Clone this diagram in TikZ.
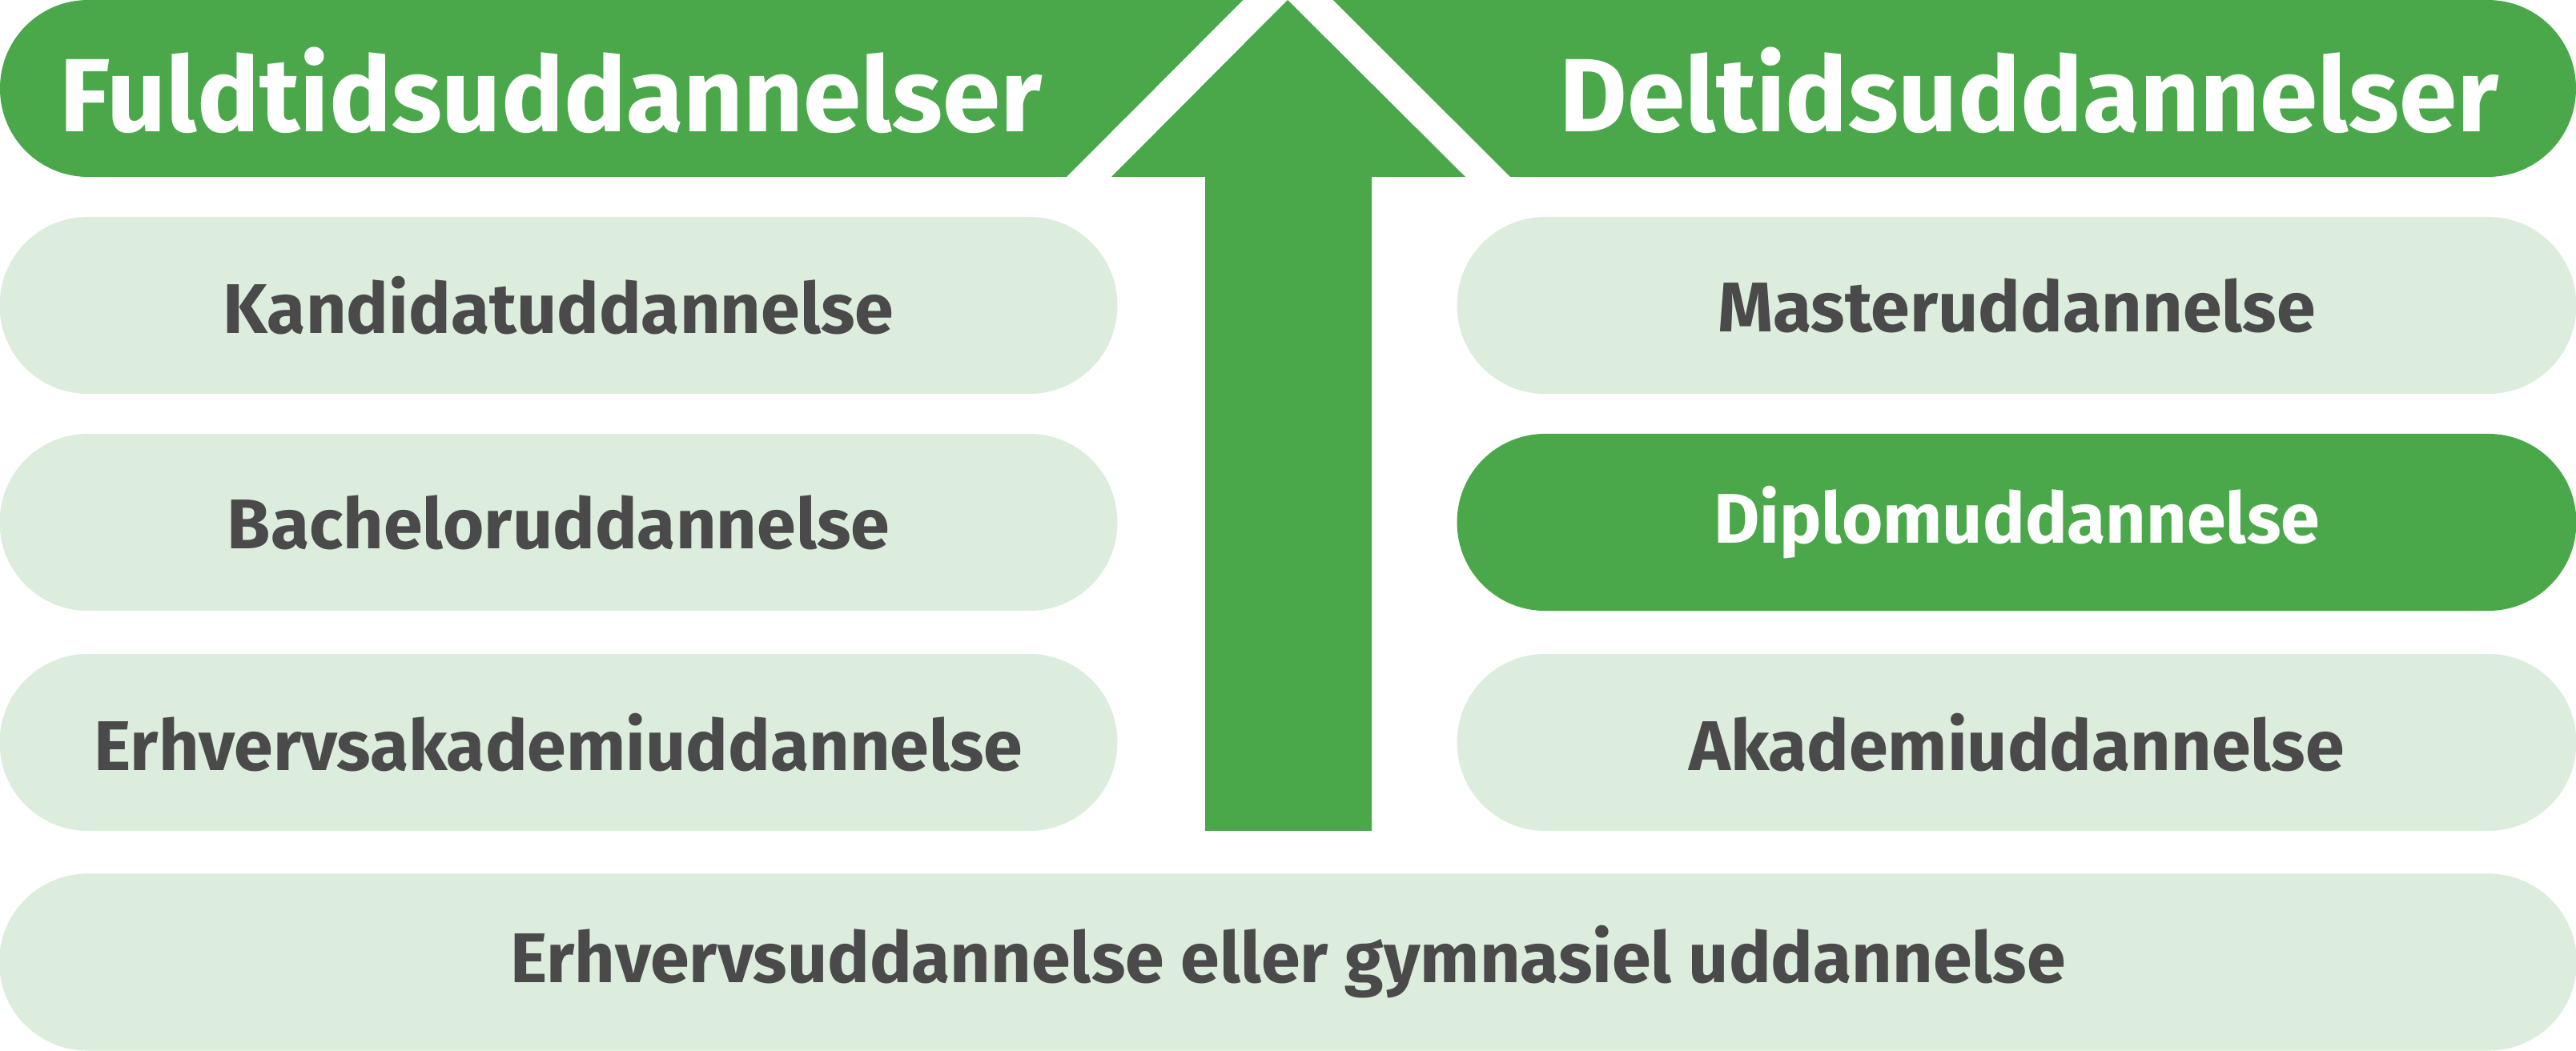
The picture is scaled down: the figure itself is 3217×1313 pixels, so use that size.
\documentclass[tikz,border=0pt]{standalone}
\usepackage{fontspec}
\setmainfont{Fira Sans}
\definecolor{gr}{HTML}{4AA84B}
\definecolor{lgr}{HTML}{DCEDDD}
\definecolor{tx}{HTML}{4A4A4A}
\begin{document}
\begin{tikzpicture}[x=0.01cm,y=-0.01cm,
 pill/.style={fill=lgr,rounded corners=1.1cm,minimum height=2.21cm,inner sep=0pt,text=tx,font=\fontsize{25}{30}\selectfont\bfseries},
 lpill/.style={pill,minimum width=13.95cm},
 rpill/.style={pill,minimum width=13.97cm},
 hd/.style={text=white,font=\fontsize{37}{44}\selectfont\bfseries}]
\useasboundingbox (0,0) rectangle (3217,1313);
\fill[gr,rounded corners=1.1cm] (1552,0) -- (0,0) -- (0,221) -- (1332,221) [sharp corners] -- cycle;
\fill[gr] (1552,0) -- (1332,221) -- (600,221) -- (600,0) -- cycle;
\fill[gr,rounded corners=1.1cm] (1665,0) -- (3217,0) -- (3217,221) -- (1886,221) [sharp corners]-- cycle;
\fill[gr] (1665,0) -- (2600,0) -- (2600,221) -- (1886,221) -- cycle;
\fill[gr] (1608,0) -- (1830,221) -- (1713,221) -- (1713,1038) -- (1505,1038) -- (1505,221) -- (1388,221) -- cycle;
\node[hd] (hl) at (688,113) {Fuldtidsuddannelser};
\node[hd] (hr) at (2534,113) {Deltidsuddannelser};
\node[lpill] (k) at (697.5,381.5) {Kandidatuddannelse};
\node[lpill] (b) at (697.5,652.5) {Bacheloruddannelse};
\node[lpill] (e) at (697.5,927.5) {Erhvervsakademiuddannelse};
\node[rpill] (m) at (2518.5,381.5) {Masteruddannelse};
\node[rpill,fill=gr,text=white] (d) at (2518.5,652.5) {Diplomuddannelse};
\node[rpill] (a) at (2518.5,927.5) {Akademiuddannelse};
\node[pill,minimum width=32.17cm] (g) at (1608.5,1202) {Erhvervsuddannelse eller gymnasiel uddannelse};
\end{tikzpicture}
\end{document}
